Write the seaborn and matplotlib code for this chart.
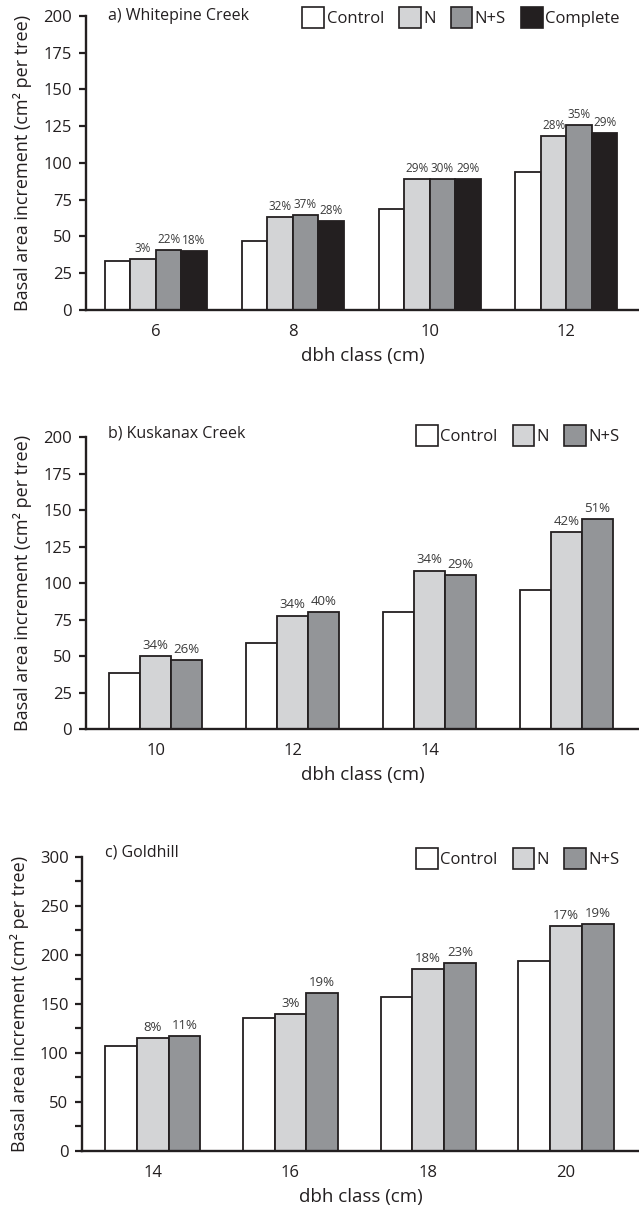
import matplotlib
matplotlib.use("Agg")
import matplotlib.pyplot as plt
from matplotlib.patches import Patch
from matplotlib.ticker import MultipleLocator
import numpy as np
import pandas as pd
import seaborn as sns

# ---- data -------------------------------------------------------------
treatments = ["Control", "N", "N+S", "Complete"]
colors = {"Control": "#ffffff", "N": "#d3d4d6", "N+S": "#939598", "Complete": "#231f20"}

# a) Whitepine Creek
a_classes = ["6", "8", "10", "12"]
a_control = [33.6, 47.0, 68.6, 93.6]
a_n = [34.5, 63.0, 89.0, 118.4]
a_ns = [40.9, 64.3, 89.0, 125.9]
a_complete = [39.8, 60.2, 89.0, 120.5]
a_pct_n = ["3%", "32%", "29%", "28%"]
a_pct_ns = ["22%", "37%", "30%", "35%"]
a_pct_complete = ["18%", "28%", "29%", "29%"]

# b) Kuskanax Creek
b_classes = ["10", "12", "14", "16"]
b_control = [38.3, 58.8, 80.6, 95.4]
b_n = [49.9, 77.9, 108.7, 135.1]
b_ns = [47.2, 80.6, 105.9, 144.0]
b_pct_n = ["34%", "34%", "34%", "42%"]
b_pct_ns = ["26%", "40%", "29%", "51%"]

# c) Goldhill
c_classes = ["14", "16", "18", "20"]
c_control = [106.5, 135.0, 157.0, 194.0]
c_n = [115.0, 139.8, 185.7, 229.6]
c_ns = [117.0, 161.2, 191.8, 231.6]
c_pct_n = ["8%", "3%", "18%", "17%"]
c_pct_ns = ["11%", "19%", "23%", "19%"]

sns.set_style("white")
plt.rcParams["font.family"] = ["Open Sans", "DejaVu Sans"]
ink = "#231f20"


def long_frame(classes, series):
    rows = []
    for name, vals in series.items():
        for c, v in zip(classes, vals):
            rows.append({"dbh": c, "treatment": name, "bai": v})
    return pd.DataFrame(rows)


def panel(ax, title, classes, series, pcts, ymax, major, minor, width, pct_size,
          title_y, leg_y):
    names = list(series.keys())
    df = long_frame(classes, series)
    sns.barplot(data=df, x="dbh", y="bai", hue="treatment", order=classes,
                hue_order=names, palette={k: colors[k] for k in names},
                width=width, gap=0, saturation=1, edgecolor=ink, linewidth=1.3,
                legend=False, ax=ax, errorbar=None)
    # percentage gains above treated bars
    for name, cont in zip(names, ax.containers):
        if name not in pcts:
            continue
        for bar, txt in zip(cont, pcts[name]):
            ax.annotate(txt, (bar.get_x() + bar.get_width() / 2, bar.get_height()),
                        xytext=(0, 3), textcoords="offset points",
                        ha="center", va="bottom", fontsize=pct_size, color="#3a3a3a")
    ax.set_ylim(0, ymax)
    ax.set_xlim(-0.51, 3.53)
    ax.yaxis.set_major_locator(MultipleLocator(major))
    if minor:
        ax.yaxis.set_minor_locator(MultipleLocator(minor))
    ax.tick_params(axis="y", which="both", direction="out", length=5, width=1.6,
                   color=ink, labelsize=12, labelcolor=ink, left=True, pad=5)
    ax.tick_params(axis="x", length=0, labelsize=12, labelcolor=ink, pad=10)
    for s in ("top", "right"):
        ax.spines[s].set_visible(False)
    for s in ("left", "bottom"):
        ax.spines[s].set_color(ink)
        ax.spines[s].set_linewidth(1.7)
    ax.set_xlabel("dbh class (cm)", fontsize=13.5, color=ink, labelpad=5)
    ax.set_ylabel("Basal area increment (cm² per tree)", fontsize=13, color=ink,
                  labelpad=8)
    ax.text(0.04, title_y, title, transform=ax.transAxes, ha="left", va="center",
            fontsize=11.5, color=ink)
    handles = [Patch(facecolor=colors[n], edgecolor=ink, linewidth=1.2, label=n)
               for n in names]
    ax.legend(handles=handles, ncol=len(names), loc="upper right",
              bbox_to_anchor=(0.965, leg_y), frameon=False, fontsize=12,
              handlelength=1.3, handleheight=1.6, handletextpad=0.15,
              columnspacing=0.9, borderpad=0, borderaxespad=0,
              labelcolor=ink)


fig = plt.figure(figsize=(6.39, 12.19), dpi=100)
ax_a = fig.add_axes([0.1346, 0.7457, 0.8654, 0.2412])
ax_b = fig.add_axes([0.1346, 0.4017, 0.8654, 0.2395])
ax_c = fig.add_axes([0.1290, 0.0560, 0.8710, 0.2412])

panel(ax_a, "a) Whitepine Creek", a_classes,
      {"Control": a_control, "N": a_n, "N+S": a_ns, "Complete": a_complete},
      {"N": a_pct_n, "N+S": a_pct_ns, "Complete": a_pct_complete},
      200, 25, None, 0.745, 8.5, 1.0, 1.031)
panel(ax_b, "b) Kuskanax Creek", b_classes,
      {"Control": b_control, "N": b_n, "N+S": b_ns},
      {"N": b_pct_n, "N+S": b_pct_ns},
      200, 25, None, 0.68, 9.5, 1.014, 1.043)
panel(ax_c, "c) Goldhill", c_classes,
      {"Control": c_control, "N": c_n, "N+S": c_ns},
      {"N": c_pct_n, "N+S": c_pct_ns},
      300, 50, 25, 0.69, 9.5, 1.015, 1.03)

fig.savefig("out.png", dpi=100)
